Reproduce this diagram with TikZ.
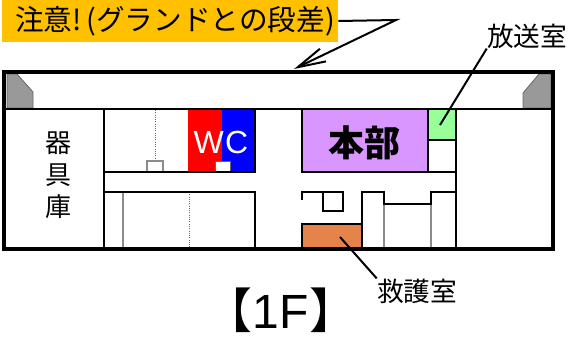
\documentclass[tikz,border=0pt]{standalone}
\usepackage{fontspec}
\setmainfont{Noto Sans CJK JP}
\newfontfamily\latinfont{Liberation Sans}
\usetikzlibrary{arrows.meta}
\definecolor{warnorange}{HTML}{FFC000}
\definecolor{honbu}{HTML}{D996FF}
\definecolor{housou}{HTML}{99FF99}
\definecolor{kyugo}{HTML}{E5844A}
\begin{document}
\begin{tikzpicture}[x=0.75pt,y=-0.75pt]
    \tikzstyle{wall}=[draw=black, line width=1.3pt]
    \tikzstyle{outerwall}=[draw=black, line width=2.4pt]
    \tikzstyle{thinwall}=[draw=black!45, line width=0.9pt]
    \tikzstyle{dotwall}=[draw=black!60, line width=0.7pt, densely dotted]
    \tikzstyle{stage}=[draw=black!60, line width=0.6pt, fill=black!40]
    \tikzstyle{leader}=[draw=black, line width=1.5pt]
    \tikzstyle{roomlabel}=[inner sep=0pt, font=\fontsize{20}{24}\selectfont]
    \useasboundingbox (0,0) rectangle (573,338);
    % rooms
    \fill[honbu] (302,110) rectangle (428,172);
    \fill[housou] (428,110) rectangle (456,140);
    \fill[red] (188,110) rectangle (222,172);
    \fill[blue] (222,110) rectangle (255,172);
    \fill[kyugo] (302,224) rectangle (362,249);
    % stage corners
    \draw[stage] (7,74) -- (17,74) -- (33,92) -- (33,108) -- (7,108) -- cycle;
    \draw[stage] (551,74) -- (539,74) -- (523,93) -- (523,108) -- (551,108) -- cycle;
    % thin and dotted lines
    \draw[dotwall] (155,110) -- (155,161);
    \draw[dotwall] (189,192) -- (189,249);
    \draw[thinwall] (123,192) -- (123,249);
    \draw[thinwall] (384,204) -- (384,249);
    \draw[thinwall] (431,204) -- (431,249);
    \draw[thinwall] (147,172) -- (147,161) -- (163,161) -- (163,172);
    \draw[draw=black!60, line width=0.6pt, fill=white] (215,161) rectangle (230,172);
    % walls
    \draw[wall] (5,109) -- (552,109);
    \draw[wall] (104,109) -- (104,249);
    \draw[wall] (104,172) -- (256,172);
    \draw[wall] (255,110) -- (255,172);
    \draw[wall] (104,192) -- (255,192) -- (255,249);
    \draw[wall] (302,110) -- (302,172) -- (456,172);
    \draw[thinwall, draw=black] (428,110) -- (428,172);
    \draw[thinwall, draw=black] (428,140) -- (456,140);
    \draw[wall] (456,109) -- (456,249);
    \draw[wall] (302,200) -- (302,192) -- (343,192) -- (343,211) -- (323,211) -- (323,192);
    \draw[wall] (302,249) -- (302,224) -- (362,224);
    \draw[wall] (362,249) -- (362,192) -- (384,192) -- (384,204) -- (431,204) -- (431,192) -- (456,192);
    \draw[outerwall] (4,72) rectangle (553,249);
    % labels
    \node[fill=warnorange, inner sep=0pt, minimum width=252pt, minimum height=31.5pt, font=\fontsize{21.5}{26}\selectfont] (warn) at (170,21) {\hspace*{7.5pt}注意!\,(グランドとの段差)};
    \node[roomlabel] (houso) at (527,36) {放送室};
    \node[roomlabel] (kyugoshitsu) at (417,291) {救護室};
    \node[roomlabel, align=center, font=\fontsize{19.5}{24}\selectfont] (kigu) at (58,175) {器\\具\\庫};
    \node[inner sep=0pt, font=\fontsize{27}{32}\selectfont\bfseries] (honbulabel) at (364,143) {本部};
    \node[inner sep=0pt, text=white, font=\latinfont\fontsize{24}{28}\selectfont] (wc) at (221,142) {W\kern1pt C};
    \node[inner sep=0pt, font=\fontsize{36}{40}\selectfont] (floor) at (281,310) {【{\latinfont 1F}】};
    % leaders
    \coordinate (bend) at (396,20);
    \coordinate (stagewall) at (294,69);
    \coordinate (housopt) at (440,125);
    \coordinate (kyugopt) at (340,237);
    \draw[leader, -{Straight Barb[length=21pt,width=10.5pt]}] (warn.east) -- (bend) -- (stagewall);
    \draw[leader] (houso.south west) -- (housopt);
    \draw[leader] (kyugoshitsu.north west) -- (kyugopt);
\end{tikzpicture}
\end{document}
